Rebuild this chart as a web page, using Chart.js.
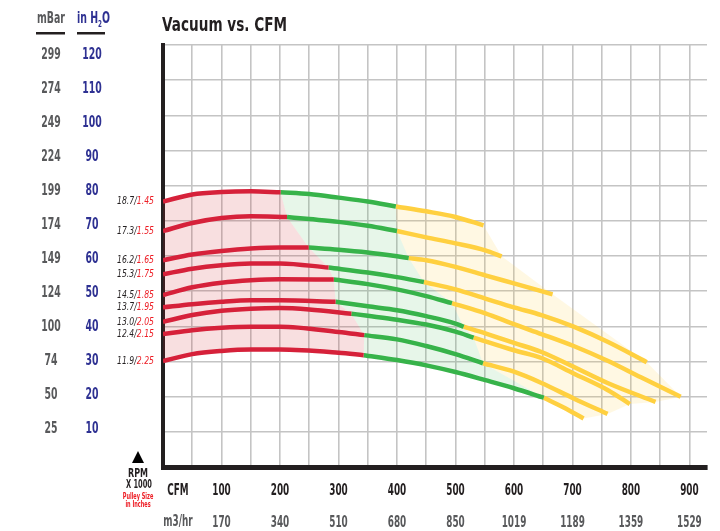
<!DOCTYPE html>
<html>
<head>
<meta charset="utf-8">
<script src="https://cdn.jsdelivr.net/npm/chart.js@4.4.1/dist/chart.umd.min.js"></script>
<style>
  html, body { margin: 0; padding: 0; background: #fff; }
  #wrap { position: relative; width: 720px; height: 531px; }
</style>
</head>
<body>
<div id="wrap"><canvas id="chart" width="720" height="531"></canvas></div>
<script>
// vacuum axis: inches of water, with the matching mBar column
var inH2O = [120, 110, 100, 90, 80, 70, 60, 50, 40, 30, 20, 10];
var mBar  = [299, 274, 249, 224, 199, 174, 149, 124, 100, 74, 50, 25];

// flow axis: CFM and m3/hr
var cfmTicks = [100, 200, 300, 400, 500, 600, 700, 800, 900];
var m3hr     = [170, 340, 510, 680, 850, 1019, 1189, 1359, 1529];

// one curve per speed: RPM x 1000 / pulley size in inches
var rpm    = ['18.7', '17.3', '16.2', '15.3', '14.5', '13.7', '13.0', '12.4', '11.9'];
var pulley = ['1.45', '1.55', '1.65', '1.75', '1.85', '1.95', '2.05', '2.15', '2.25'];

// [cfm, inH2O], split by operating zone
var redZone = [
  [[0,75.5],[50,77.5],[100,78.2],[150,78.4],[201,78.1]],
  [[0,67.1],[50,69.4],[100,70.8],[150,71.3],[212,71.1]],
  [[0,58.8],[50,60.4],[100,61.4],[150,62.1],[200,62.4],[249,62.4]],
  [[0,54.8],[50,56.4],[100,57.4],[150,57.9],[200,57.9],[283,56.7]],
  [[0,48.9],[50,51.1],[100,52.4],[150,53.1],[200,53.4],[292,53.3]],
  [[0,45.4],[50,46.3],[100,47.0],[150,47.4],[200,47.4],[295,47.0]],
  [[0,41.3],[50,43.2],[100,44.4],[150,45.0],[200,45.2],[250,44.8],[322,43.6]],
  [[0,37.8],[50,38.9],[100,39.6],[150,39.9],[200,39.9],[300,38.4],[344,37.5]],
  [[0,30.1],[50,32.1],[100,33.0],[150,33.4],[200,33.4],[300,32.5],[343,31.8]]
];
var greenZone = [
  [[201,78.1],[250,77.6],[300,76.6],[350,75.5],[398,74.1]],
  [[212,71.1],[250,70.5],[300,69.7],[350,68.6],[400,67.1]],
  [[249,62.4],[300,61.8],[350,61.0],[400,59.9],[420,59.4]],
  [[283,56.7],[350,55.3],[400,54.0],[446,52.6]],
  [[292,53.3],[350,52.0],[400,50.5],[450,48.6],[494,46.6]],
  [[295,47.0],[350,45.7],[400,44.6],[450,42.9],[500,40.8],[514,39.9]],
  [[322,43.6],[350,43.0],[400,41.9],[450,40.5],[500,38.5],[531,36.8]],
  [[344,37.5],[400,36.3],[450,34.4],[500,32.1],[547,29.5]],
  [[343,31.8],[400,30.4],[450,28.9],[500,27.0],[551,24.7],[600,22.4],[651,19.7]]
];
var yellowZone = [
  [[398,74.1],[450,72.7],[500,71.1],[548,68.7]],
  [[400,67.1],[450,65.3],[500,63.6],[551,61.6],[579,59.9]],
  [[420,59.4],[450,58.8],[500,56.9],[551,54.5],[600,52.2],[666,49.1]],
  [[446,52.6],[500,50.5],[551,47.9],[600,45.4],[647,43.2],[702,39.9],[760,35.6],[827,29.8]],
  [[494,46.6],[551,43.7],[600,40.6],[647,37.8],[702,34.4],[760,30.2],[817,25.5],[885,20.0]],
  [[514,39.9],[551,38.0],[600,35.3],[647,32.7],[702,28.5],[760,23.9],[842,18.5]],
  [[531,36.8],[600,33.2],[647,31.0],[702,26.6],[760,21.9],[798,17.9]],
  [[547,29.5],[600,27.1],[647,23.9],[702,19.5],[760,15.1]],
  [[651,19.7],[685,16.9],[719,13.8]]
];

// no condensed face installed, so a heavy sans gets squeezed sideways
var FONT = '"DejaVu Sans", sans-serif';
var RED = '#d6213a', GREEN = '#37b34a', YELLOW = '#ffd040';

function pts(list) {
  return list.map(function (p) { return {x: p[0], y: p[1]}; });
}
function last(list) { return list[list.length - 1]; }

// closed outline of a zone: top curve, right edge down through the
// zone ends, bottom curve back, then left edge back up
function zoneShape(zone, leftEdge) {
  var n = zone.length;
  var out = zone[0].slice();
  for (var i = 1; i < n - 1; i++) out.push(last(zone[i]));
  out = out.concat(zone[n - 1].slice().reverse());
  if (leftEdge) {
    for (var j = n - 2; j > 0; j--) out.push(last(leftEdge[j]));
  }
  return pts(out);
}

var datasets = [];
function addCurves(zone, color) {
  zone.forEach(function (c) {
    datasets.push({
      data: pts(c), showLine: true, borderColor: color, borderWidth: 4.5,
      pointRadius: 0, cubicInterpolationMode: 'monotone', fill: false,
      borderCapStyle: 'butt'
    });
  });
}
addCurves(redZone, RED);
addCurves(greenZone, GREEN);
addCurves(yellowZone, YELLOW);

function addShape(data, color) {
  datasets.push({
    data: data, showLine: true, borderWidth: 0, borderColor: 'rgba(0,0,0,0)',
    backgroundColor: color, pointRadius: 0, fill: 'shape', tension: 0
  });
}
addShape(zoneShape(redZone, null), 'rgba(210,40,50,0.15)');
addShape(zoneShape(greenZone, redZone), 'rgba(55,179,74,0.12)');
addShape(zoneShape(yellowZone, greenZone), 'rgba(255,205,60,0.14)');

// squeeze factor so that sample text comes out at the wanted width
function fit(ctx, font, sample, width) {
  ctx.font = font;
  return width / ctx.measureText(sample).width;
}

function txt(ctx, s, x, y, align, sx) {
  ctx.save();
  ctx.translate(x, y);
  ctx.scale(sx, 1);
  ctx.textAlign = align;
  ctx.fillText(s, 0, 0);
  ctx.restore();
}

function drawRight(ctx, parts, xRight, y, sx) {
  var w = 0;
  parts.forEach(function (p) { w += ctx.measureText(p[0]).width * sx; });
  var x = xRight - w;
  parts.forEach(function (p) {
    ctx.fillStyle = p[1];
    txt(ctx, p[0], x, y, 'left', sx);
    x += ctx.measureText(p[0]).width * sx;
  });
}

var sideText = {
  id: 'sideText',
  afterDraw: function (chart) {
    var ctx = chart.ctx, area = chart.chartArea;
    var xs = chart.scales.x, ys = chart.scales.y, yl = chart.scales.yl;
    var left = area.left, sx;
    ctx.save();
    ctx.textBaseline = 'middle';

    // title
    ctx.fillStyle = '#231f20';
    sx = fit(ctx, 'bold 19px ' + FONT, 'Vacuum vs. CFM', 125);
    txt(ctx, 'Vacuum vs. CFM', left - 1, 26, 'left', sx);

    // column headers
    sx = fit(ctx, 'bold 15px ' + FONT, 'mBar', 28);
    ctx.fillStyle = '#58595b';
    txt(ctx, 'mBar', left - 112, 19, 'center', sx);
    ctx.fillStyle = '#2e3192';
    var hx = left - 86;
    txt(ctx, 'in H', hx, 19, 'left', sx);
    hx += ctx.measureText('in H').width * sx;
    ctx.font = 'bold 9px ' + FONT;
    txt(ctx, '2', hx, 25, 'left', sx);
    hx += ctx.measureText('2').width * sx;
    ctx.font = 'bold 15px ' + FONT;
    txt(ctx, 'O', hx, 19, 'left', sx);
    ctx.fillStyle = '#231f20';
    ctx.fillRect(left - 127, 32, 29, 2.5);
    ctx.fillRect(left - 86, 32, 28, 2.5);

    // vacuum labels
    sx = fit(ctx, 'bold 15px ' + FONT, '224', 19.5);
    inH2O.forEach(function (v, i) {
      var py = yl.getPixelForValue(v);
      ctx.fillStyle = '#58595b';
      txt(ctx, String(mBar[i]), left - 112, py, 'center', sx);
      ctx.fillStyle = '#2e3192';
      txt(ctx, String(v), left - 71, py, 'center', sx);
    });

    // curve labels
    sx = fit(ctx, 'italic 11px ' + FONT, '18.7/1.45', 37);
    rpm.forEach(function (r, i) {
      var py = ys.getPixelForValue(redZone[i][0][1]);
      drawRight(ctx, [[r + '/', '#231f20'], [pulley[i], '#ed1c24']], left - 9, py, sx);
    });

    // flow labels
    sx = fit(ctx, 'bold 15px ' + FONT, '100', 18.5);
    ctx.fillStyle = '#231f20';
    txt(ctx, 'CFM', left + 15, 491, 'center', sx);
    cfmTicks.forEach(function (v) {
      txt(ctx, String(v), xs.getPixelForValue(v), 491, 'center', sx);
    });
    ctx.fillStyle = '#58595b';
    txt(ctx, 'm3/hr', left + 15, 522, 'center', sx);
    m3hr.forEach(function (v, i) {
      txt(ctx, String(v), xs.getPixelForValue(cfmTicks[i]), 523, 'center', sx);
    });

    // RPM legend
    var cx = left - 25;
    ctx.fillStyle = '#000';
    ctx.beginPath();
    ctx.moveTo(cx, 451);
    ctx.lineTo(cx + 6, 463);
    ctx.lineTo(cx - 6, 463);
    ctx.closePath();
    ctx.fill();
    ctx.fillStyle = '#231f20';
    sx = fit(ctx, 'bold 12px ' + FONT, 'RPM', 20);
    txt(ctx, 'RPM', cx, 474, 'center', sx);
    sx = fit(ctx, 'bold 12px ' + FONT, 'X 1000', 26);
    txt(ctx, 'X 1000', cx + 1, 485, 'center', sx);
    ctx.fillStyle = '#ed1c24';
    sx = fit(ctx, 'bold 8px ' + FONT, 'Pulley Size', 30.5);
    txt(ctx, 'Pulley Size', cx, 497, 'center', sx);
    txt(ctx, 'in Inches', cx, 505, 'center', sx);
    ctx.restore();
  }
};

new Chart(document.getElementById('chart'), {
  type: 'scatter',
  data: {datasets: datasets},
  plugins: [sideText],
  options: {
    responsive: false,
    animation: false,
    layout: {padding: {left: 163, right: 13, top: 45, bottom: 64}},
    plugins: {
      legend: {display: false},
      tooltip: {enabled: false}
    },
    scales: {
      x: {
        type: 'linear', min: 0, max: 930,
        ticks: {display: false, stepSize: 50, includeBounds: false},
        grid: {color: '#c4c4c4', lineWidth: 1.6, drawTicks: false},
        border: {display: true, color: '#231f20', width: 5}
      },
      y: {
        type: 'linear', min: 0, max: 120,
        ticks: {display: false, stepSize: 10, includeBounds: false},
        grid: {color: '#c4c4c4', lineWidth: 1.6, drawTicks: false},
        border: {display: true, color: '#231f20', width: 4}
      },
      yl: {type: 'linear', display: false, min: -1, max: 123}
    }
  }
});
</script>
</body>
</html>
